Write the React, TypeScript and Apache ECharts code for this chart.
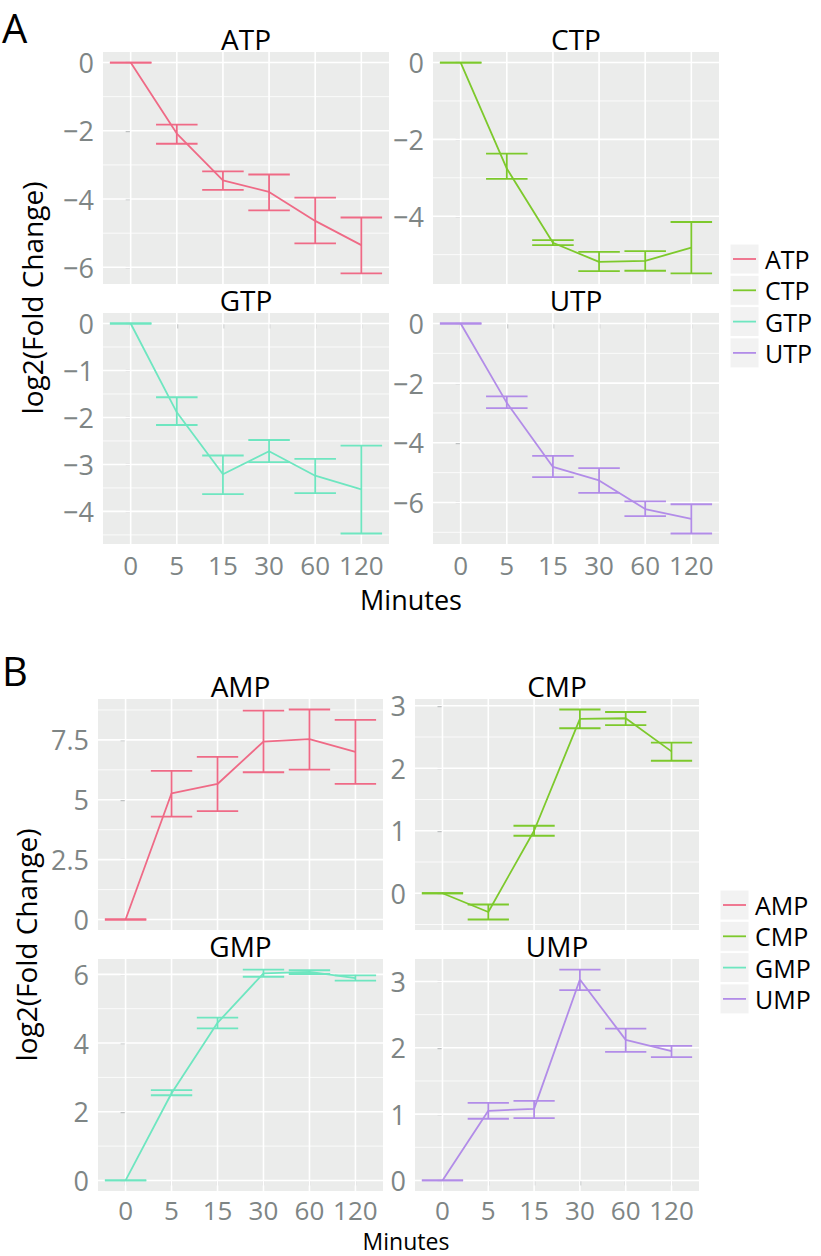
import React, { useEffect, useRef } from "react";
import * as echarts from "echarts";

// ---------- data ----------
const minutes = ["0", "5", "15", "30", "60", "120"];

const atpMean = [0, -2.08, -3.45, -3.79, -4.64, -5.35];
const atpLow = [0, -2.38, -3.73, -4.33, -5.3, -6.18];
const atpHigh = [0, -1.82, -3.19, -3.28, -3.96, -4.54];

const ctpMean = [0, -2.76, -4.69, -5.19, -5.16, -4.82];
const ctpLow = [0, -3.03, -4.75, -5.43, -5.42, -5.49];
const ctpHigh = [0, -2.37, -4.62, -4.93, -4.91, -4.15];

const gtpMean = [0, -1.89, -3.21, -2.72, -3.24, -3.53];
const gtpLow = [0, -2.16, -3.63, -2.95, -3.61, -4.47];
const gtpHigh = [0, -1.57, -2.81, -2.48, -2.88, -2.6];

const utpMean = [0, -2.66, -4.81, -5.26, -6.22, -6.55];
const utpLow = [0, -2.84, -5.15, -5.68, -6.46, -7.04];
const utpHigh = [0, -2.44, -4.44, -4.85, -5.96, -6.06];

const ampMean = [0, 5.27, 5.66, 7.43, 7.53, 7.0];
const ampLow = [0, 4.3, 4.53, 6.15, 6.26, 5.66];
const ampHigh = [0, 6.21, 6.79, 8.72, 8.77, 8.34];

const cmpMean = [0, -0.3, 1.0, 2.79, 2.8, 2.27];
const cmpLow = [0, -0.42, 0.92, 2.64, 2.69, 2.12];
const cmpHigh = [0, -0.18, 1.08, 2.94, 2.9, 2.41];

const gmpMean = [0, 2.54, 4.59, 6.03, 6.07, 5.89];
const gmpLow = [0, 2.48, 4.43, 5.93, 6.01, 5.82];
const gmpHigh = [0, 2.63, 4.74, 6.14, 6.12, 5.97];

const umpMean = [0, 1.05, 1.08, 3.03, 2.12, 1.95];
const umpLow = [0, 0.93, 0.94, 2.87, 1.94, 1.86];
const umpHigh = [0, 1.17, 1.2, 3.18, 2.29, 2.03];

const atpTicks = [0, -2, -4, -6];
const ctpTicks = [0, -2, -4];
const gtpTicks = [0, -1, -2, -3, -4];
const utpTicks = [0, -2, -4, -6];
const ampTicks = [0, 2.5, 5, 7.5];
const cmpTicks = [0, 1, 2, 3];
const gmpTicks = [0, 2, 4, 6];
const umpTicks = [0, 1, 2, 3];

const triNames = ["ATP", "CTP", "GTP", "UTP"];
const monoNames = ["AMP", "CMP", "GMP", "UMP"];
const colors = ["#EF6A86", "#7DC92C", "#6EE6C0", "#B28CE8"];

// ---------- layout / style ----------
const FONT = "'Open Sans', 'Noto Sans', sans-serif";
const GREY = "#7E8585";
const BG = "#EBECEB";

type Panel = {
  name: string;
  color: string;
  mean: number[];
  low: number[];
  high: number[];
  ticks: number[];
  rect: [number, number, number, number];
  bottom: boolean;
  labelMargin: number;
};

const panels: Panel[] = [
  { name: triNames[0], color: colors[0], mean: atpMean, low: atpLow, high: atpHigh, ticks: atpTicks, rect: [103, 52, 286, 232], bottom: false, labelMargin: 8 },
  { name: triNames[1], color: colors[1], mean: ctpMean, low: ctpLow, high: ctpHigh, ticks: ctpTicks, rect: [433, 52, 286, 232], bottom: false, labelMargin: 8 },
  { name: triNames[2], color: colors[2], mean: gtpMean, low: gtpLow, high: gtpHigh, ticks: gtpTicks, rect: [103, 313, 286, 231], bottom: true, labelMargin: 8 },
  { name: triNames[3], color: colors[3], mean: utpMean, low: utpLow, high: utpHigh, ticks: utpTicks, rect: [433, 313, 286, 231], bottom: true, labelMargin: 8 },
  { name: monoNames[0], color: colors[0], mean: ampMean, low: ampLow, high: ampHigh, ticks: ampTicks, rect: [98, 699, 285, 231], bottom: false, labelMargin: 6 },
  { name: monoNames[1], color: colors[1], mean: cmpMean, low: cmpLow, high: cmpHigh, ticks: cmpTicks, rect: [415, 699, 284, 231], bottom: false, labelMargin: 6 },
  { name: monoNames[2], color: colors[2], mean: gmpMean, low: gmpLow, high: gmpHigh, ticks: gmpTicks, rect: [98, 959, 285, 232], bottom: true, labelMargin: 6 },
  { name: monoNames[3], color: colors[3], mean: umpMean, low: umpLow, high: umpHigh, ticks: umpTicks, rect: [415, 959, 284, 232], bottom: true, labelMargin: 6 },
];

const fmt = (v: number) => (v < 0 ? "\u2212" + String(-v) : String(v));

function buildOption() {
  const grid: any[] = [];
  const xAxis: any[] = [];
  const yAxis: any[] = [];
  const series: any[] = [];
  const graphic: any[] = [];
  const xIdx = minutes.map((_, i) => i);

  panels.forEach((p, k) => {
    const lo = Math.min(...p.low, ...p.mean);
    const hi = Math.max(...p.high, ...p.mean);
    const pad = (hi - lo) * 0.05;
    const yMin = lo - pad;
    const yMax = hi + pad;
    const step = p.ticks.length > 1 ? Math.abs(p.ticks[1] - p.ticks[0]) : 1;
    const sorted = [...p.ticks].sort((a, b) => a - b);
    const minor: number[] = [];
    for (let v = sorted[0] - step / 2; v < sorted[sorted.length - 1] + step; v += step) {
      if (v > yMin && v < yMax) minor.push(v);
    }
    const [l, t, w, h] = p.rect;
    grid.push({ left: l, top: t, width: w, height: h, show: true, backgroundColor: BG, borderWidth: 0, containLabel: false });
    xAxis.push({
      gridIndex: k,
      type: "value",
      min: -0.6,
      max: 5.6,
      axisLine: { show: false },
      splitLine: { show: false },
      axisTick: { show: p.bottom, customValues: xIdx, length: 5, lineStyle: { color: GREY, width: 1.2 } },
      axisLabel: {
        show: p.bottom,
        customValues: xIdx,
        formatter: (v: number) => minutes[Math.round(v)] ?? "",
        color: GREY,
        fontSize: 26,
        fontFamily: FONT,
        margin: p.labelMargin,
      },
    });
    yAxis.push({
      gridIndex: k,
      type: "value",
      min: yMin,
      max: yMax,
      axisLine: { show: false },
      splitLine: { show: false },
      axisTick: { show: true, customValues: p.ticks, length: 5, lineStyle: { color: GREY, width: 1.2 } },
      axisLabel: {
        customValues: p.ticks,
        formatter: (v: number) => fmt(Math.round(v * 100) / 100),
        color: GREY,
        fontSize: 27,
        fontFamily: FONT,
        margin: 9,
      },
    });

    const gridData: number[][] = [
      ...xIdx.map((i) => [i, 0]),
      ...p.ticks.map((v) => [v, 1]),
      ...minor.map((v) => [v, 2]),
    ];
    series.push({
      type: "custom",
      xAxisIndex: k,
      yAxisIndex: k,
      silent: true,
      z: 1,
      data: gridData,
      renderItem: (params: any, api: any) => {
        const cs = params.coordSys;
        const v = api.value(0);
        const kind = api.value(1);
        if (kind === 0) {
          const x = api.coord([v, yMin])[0];
          return { type: "line", shape: { x1: x, y1: cs.y, x2: x, y2: cs.y + cs.height }, style: { stroke: "#FFFFFF", lineWidth: 1.6 } };
        }
        const y = api.coord([0, v])[1];
        return {
          type: "line",
          shape: { x1: cs.x, y1: y, x2: cs.x + cs.width, y2: y },
          style: { stroke: "#FFFFFF", lineWidth: kind === 1 ? 1.6 : 0.8 },
        };
      },
    });

    series.push({
      type: "custom",
      name: p.name + " error",
      xAxisIndex: k,
      yAxisIndex: k,
      silent: true,
      z: 3,
      encode: { x: 0, y: [1, 2] },
      data: xIdx.map((i) => [i, p.low[i], p.high[i]]),
      renderItem: (params: any, api: any) => {
        const x = api.value(0);
        const a = api.value(1);
        const b = api.value(2);
        const pa = api.coord([x, a]);
        const pb = api.coord([x, b]);
        const xl = api.coord([x - 0.45, a])[0];
        const xr = api.coord([x + 0.45, a])[0];
        const st = { stroke: p.color, lineWidth: 1.8 };
        return {
          type: "group",
          children: [
            { type: "line", shape: { x1: pa[0], y1: pa[1], x2: pb[0], y2: pb[1] }, style: st },
            { type: "line", shape: { x1: xl, y1: pa[1], x2: xr, y2: pa[1] }, style: st },
            { type: "line", shape: { x1: xl, y1: pb[1], x2: xr, y2: pb[1] }, style: st },
          ],
        };
      },
    });

    series.push({
      type: "line",
      name: p.name,
      xAxisIndex: k,
      yAxisIndex: k,
      z: 4,
      showSymbol: false,
      symbol: "none",
      silent: true,
      lineStyle: { color: p.color, width: 1.8 },
      data: xIdx.map((i) => [i, p.mean[i]]),
    });

    graphic.push({
      type: "text",
      x: l + w / 2,
      y: t - 13,
      style: { text: p.name, fontSize: 28, fontFamily: FONT, fill: "#000", align: "center", verticalAlign: "middle" },
    });
  });

  // panel letters
  graphic.push({ type: "text", x: 2, y: 27, style: { text: "A", fontSize: 40, fontFamily: FONT, fill: "#000", align: "left", verticalAlign: "middle" } });
  graphic.push({ type: "text", x: 2, y: 670, style: { text: "B", fontSize: 40, fontFamily: FONT, fill: "#000", align: "left", verticalAlign: "middle" } });

  // axis titles
  const yTitles: [number, number][] = [[32, 298], [26, 945]];
  yTitles.forEach(([x, y]) =>
    graphic.push({
      type: "text",
      x,
      y,
      rotation: Math.PI / 2,
      style: { text: "log2(Fold Change)", fontSize: 28, fontFamily: FONT, fill: "#000", align: "center", verticalAlign: "middle" },
    })
  );
  const xTitles: [number, number, number][] = [[411, 599, 27], [406, 1241, 23]];
  xTitles.forEach(([x, y, fs]) =>
    graphic.push({ type: "text", x, y, style: { text: "Minutes", fontSize: fs, fontFamily: FONT, fill: "#000", align: "center", verticalAlign: "middle" } })
  );

  // legends
  const legends: { names: string[]; x: number; y: number }[] = [
    { names: triNames, x: 730, y: 259 },
    { names: monoNames, x: 720, y: 905 },
  ];
  legends.forEach((lg) => {
    lg.names.forEach((nm, i) => {
      const cy = lg.y + i * 31.3;
      graphic.push({ type: "rect", shape: { x: lg.x, y: cy - 15, width: 29, height: 30 }, style: { fill: "#F2F2F2", stroke: "#FFFFFF", lineWidth: 1 } });
      graphic.push({ type: "line", shape: { x1: lg.x + 3, y1: cy, x2: lg.x + 26, y2: cy }, style: { stroke: colors[i], lineWidth: 1.8 } });
      graphic.push({ type: "text", x: lg.x + 35, y: cy, style: { text: nm, fontSize: 25, fontFamily: FONT, fill: "#000", align: "left", verticalAlign: "middle" } });
    });
  });

  return { animation: false, backgroundColor: "#FFFFFF", grid, xAxis, yAxis, series, graphic };
}

export default function App() {
  const ref = useRef<HTMLDivElement>(null);
  useEffect(() => {
    if (!ref.current) return;
    const chart = echarts.init(ref.current, undefined, { renderer: "svg" });
    chart.setOption(buildOption() as any);
    return () => chart.dispose();
  }, []);
  return <div ref={ref} style={{ position: "absolute", left: 0, top: 0, width: 821, height: 1256 }} />;
}
